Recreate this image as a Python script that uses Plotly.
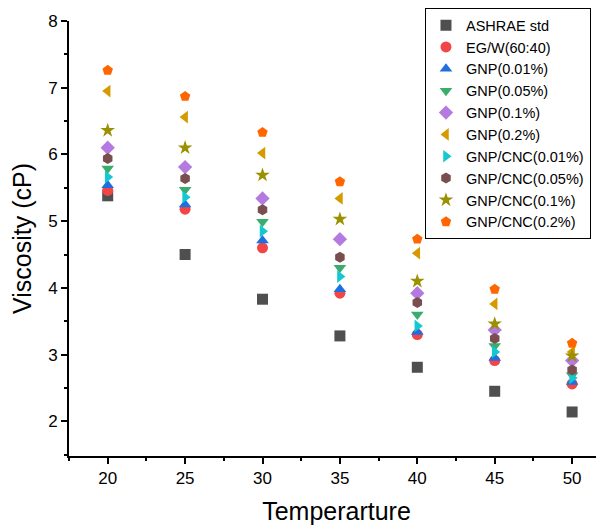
import plotly.graph_objects as go

temps = [20, 25, 30, 35, 40, 45, 50]

ashrae   = [5.38, 4.50, 3.83, 3.28, 2.81, 2.45, 2.14]
egw      = [5.46, 5.18, 4.60, 3.92, 3.30, 2.91, 2.56]
gnp_001  = [5.54, 5.25, 4.71, 3.98, 3.34, 2.95, 2.59]
gnp_005  = [5.79, 5.47, 4.99, 4.30, 3.60, 3.13, 2.69]
gnp_01   = [6.10, 5.81, 5.34, 4.73, 3.92, 3.37, 2.91]
gnp_02   = [6.95, 6.56, 6.02, 5.34, 4.52, 3.76, 3.04]
cnc_001  = [5.66, 5.36, 4.85, 4.17, 3.43, 3.04, 2.65]
cnc_005  = [5.94, 5.64, 5.17, 4.46, 3.78, 3.24, 2.77]
cnc_01   = [6.36, 6.10, 5.69, 5.03, 4.10, 3.46, 2.98]
cnc_02   = [7.26, 6.87, 6.33, 5.59, 4.73, 3.98, 3.17]

series = [
    ("ASHRAE std", ashrae, "square", "#4f4f4f"),
    ("EG/W(60:40)", egw, "circle", "#f24545"),
    ("GNP(0.01%)", gnp_001, "triangle-up", "#1f6fe0"),
    ("GNP(0.05%)", gnp_005, "triangle-down", "#3aad6e"),
    ("GNP(0.1%)", gnp_01, "diamond", "#b57ae0"),
    ("GNP(0.2%)", gnp_02, "triangle-left", "#d49a00"),
    ("GNP/CNC(0.01%)", cnc_001, "triangle-right", "#14c8d2"),
    ("GNP/CNC(0.05%)", cnc_005, "hexagon", "#7a4e4e"),
    ("GNP/CNC(0.1%)", cnc_01, "star", "#9a9000"),
    ("GNP/CNC(0.2%)", cnc_02, "pentagon", "#ff6600"),
]

fig = go.Figure()
for name, vals, sym, col in series:
    fig.add_trace(go.Scatter(x=temps, y=vals, mode="markers", name=name,
                             marker=dict(symbol=sym, size=11, color=col)))

# page has an 8px body margin, so the figure is 8px smaller on each side
font = "Liberation Sans, Arial, sans-serif"
fig.update_layout(
    width=596, height=518,
    margin=dict(l=61, r=0, t=12, b=70),
    plot_bgcolor="white", paper_bgcolor="white",
    font=dict(family=font, color="black"),
    showlegend=True,
    legend=dict(x=0.665, y=1.03, xanchor="left", yanchor="top",
                bordercolor="black", borderwidth=1.2, bgcolor="white",
                font=dict(size=14.5, family=font), tracegroupgap=0,
                itemwidth=30, entrywidth=140),
)
fig.update_xaxes(
    range=[17.5, 52.06], tickvals=temps, automargin=False,
    title=dict(text="Temperarture", font=dict(size=25), standoff=15),
    showline=True, linecolor="black", linewidth=2, showgrid=False, zeroline=False,
    ticks="outside", ticklen=6, tickwidth=1.5, tickcolor="black", tickfont=dict(size=17),
    minor=dict(tickvals=[17.5, 22.5, 27.5, 32.5, 37.5, 42.5, 47.5], ticks="outside", ticklen=3, tickwidth=1.5, tickcolor="black"),
)
fig.update_yaxes(
    range=[1.48, 8], tickvals=[2, 3, 4, 5, 6, 7, 8], automargin=False,
    title=dict(text="Viscosity (cP)", font=dict(size=25), standoff=10),
    showline=True, linecolor="black", linewidth=2, showgrid=False, zeroline=False,
    ticks="outside", ticklen=6, tickwidth=1.5, tickcolor="black", tickfont=dict(size=17),
    minor=dict(tickvals=[1.5, 2.5, 3.5, 4.5, 5.5, 6.5, 7.5], ticks="outside", ticklen=3, tickwidth=1.5, tickcolor="black"),
)

fig.write_html("out.html")
